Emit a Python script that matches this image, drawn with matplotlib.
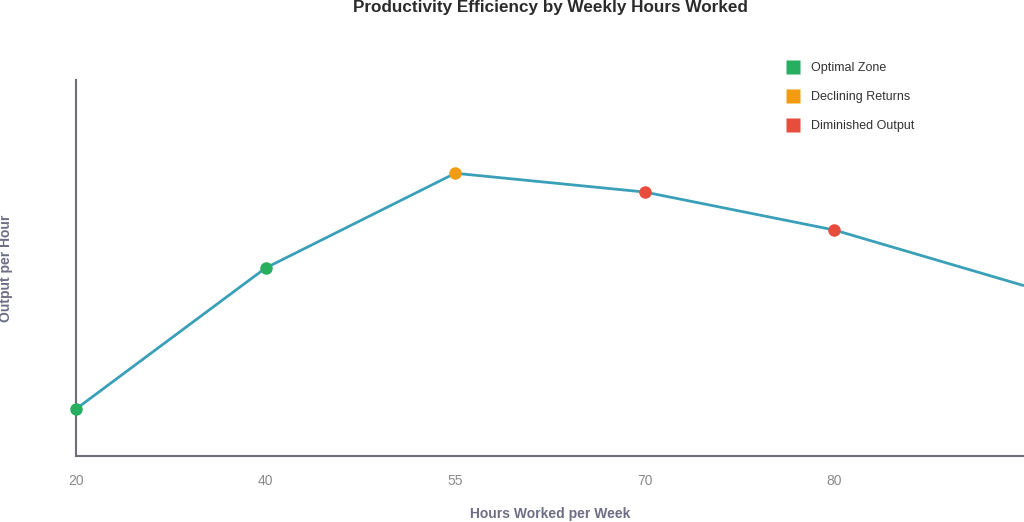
import matplotlib
matplotlib.use("Agg")
import matplotlib.pyplot as plt
from matplotlib.lines import Line2D

hours = ["20", "40", "55", "70", "80", "90"]
output_per_hour = [12.5, 50, 75.2, 70.2, 60.1, 45.3]
zones = ["Optimal Zone", "Optimal Zone", "Declining Returns",
         "Diminished Output", "Diminished Output", "Diminished Output"]
zone_names = ["Optimal Zone", "Declining Returns", "Diminished Output"]
zone_colors = {"Optimal Zone": "#27ae60", "Declining Returns": "#f39c12",
               "Diminished Output": "#e74c3c"}

plt.rcParams['font.family'] = ['Liberation Sans', 'DejaVu Sans']

fig = plt.figure(figsize=(10.24, 5.22), dpi=100)
ax = fig.add_axes([76/1024, 66/522, 1 - 76/1024, (456-80)/522])

x = list(range(len(hours)))
xmax = 5.0
ax.plot(x, output_per_hour, color="#3aa0b9", lw=2.0, zorder=2, solid_capstyle='butt')
for xi, yi, z in zip(x, output_per_hour, zones):
    if xi < xmax:
        ax.plot([xi], [yi], 'o', ms=9, color=zone_colors[z], mec='none',
                zorder=3, clip_on=False)

ax.set_xlim(0, xmax)
ax.set_ylim(0, 100)
ax.set_xticks(x[:5])
ax.set_xticklabels(hours[:5])
ax.set_yticks([])
ax.tick_params(axis='x', length=0, pad=13, labelsize=10, labelcolor="#8a8a8a")
for s in ['top', 'right']:
    ax.spines[s].set_visible(False)
for s in ['left', 'bottom']:
    ax.spines[s].set_color("#6e6e7a")
    ax.spines[s].set_linewidth(1.5)

fig.text(550/1024, 1 - 7.5/522, "Productivity Efficiency by Weekly Hours Worked",
         fontsize=12.3, fontweight='bold', color="#2b2b2b", ha='center', va='center')
fig.text(550/1024, 1 - 514/522, "Hours Worked per Week", fontsize=10,
         fontweight='bold', color="#6e6e87", ha='center', va='center')
fig.text(6/1024, 1 - 268/522, "Output per Hour", rotation=90, fontsize=10,
         fontweight='bold', color="#6e6e87", ha='center', va='center')

handles = [Line2D([], [], marker='s', ls='none', ms=10, color=zone_colors[n], mec='none')
           for n in zone_names]
fig.legend(handles, zone_names, loc='upper left',
           bbox_to_anchor=(787/1024, 1 - 62/522), frameon=False,
           borderaxespad=0, borderpad=0, handlelength=1.0, handletextpad=0.95,
           labelspacing=1.38, fontsize=9, labelcolor="#333333")

fig.savefig("out.png", dpi=100)
